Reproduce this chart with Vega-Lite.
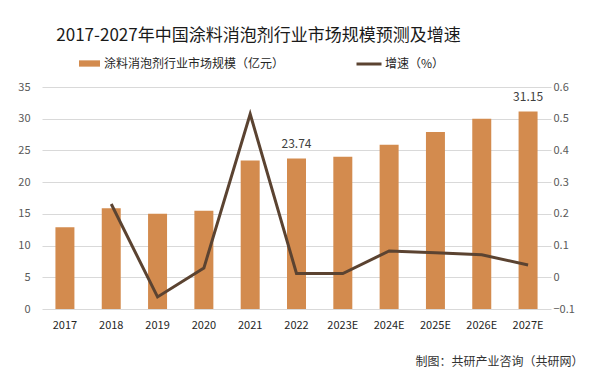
{
  "$schema": "https://vega.github.io/schema/vega-lite/v6.json",
  "width": 509,
  "height": 222,
  "autosize": "none",
  "padding": {"left": 42, "top": 87, "right": 49, "bottom": 64},
  "background": "white",
  "title": {
    "text": "2017-2027年中国涂料消泡剂行业市场规模预测及增速",
    "font": "Noto Sans CJK SC",
    "fontSize": 17,
    "fontWeight": "normal",
    "color": "#1a1a1a",
    "anchor": "middle",
    "dx": -38,
    "offset": 5
  },
  "config": {
    "view": {"stroke": null},
    "font": "Noto Sans CJK SC",
    "axis": {"labelFont": "Noto Sans CJK SC", "labelColor": "#595959", "labelFontSize": 11}
  },
  "data": {
    "values": [
      {"year": "2017", "scale": 12.9, "growth": null, "label": null},
      {"year": "2018", "scale": 15.9, "growth": 0.231, "label": null},
      {"year": "2019", "scale": 15.0, "growth": -0.062, "label": null},
      {"year": "2020", "scale": 15.5, "growth": 0.029, "label": null},
      {"year": "2021", "scale": 23.4, "growth": 0.515, "label": null},
      {"year": "2022", "scale": 23.74, "growth": 0.012, "label": "23.74"},
      {"year": "2023E", "scale": 24.0, "growth": 0.012, "label": null},
      {"year": "2024E", "scale": 25.9, "growth": 0.083, "label": null},
      {"year": "2025E", "scale": 27.9, "growth": 0.077, "label": null},
      {"year": "2026E", "scale": 30.0, "growth": 0.071, "label": null},
      {"year": "2027E", "scale": 31.15, "growth": 0.039, "label": "31.15"}
    ]
  },
  "encoding": {
    "x": {
      "field": "year",
      "type": "nominal",
      "sort": null,
      "scale": {"paddingInner": 0.59, "paddingOuter": 0.29},
      "axis": {
        "title": "制图：共研产业咨询（共研网）",
        "titleFont": "Noto Sans CJK SC",
        "titleFontSize": 12,
        "titleFontWeight": "normal",
        "titleColor": "#333333",
        "titleX": 541,
        "titleY": 52,
        "titleAlign": "right",
        "titleBaseline": "middle",
        "labelAngle": 0,
        "labelPadding": 10,
        "labelColor": "#262626",
        "domain": false,
        "ticks": false,
        "grid": false
      }
    }
  },
  "layer": [
    {
      "mark": {"type": "bar", "color": "#D38B4E"},
      "encoding": {
        "y": {
          "field": "scale",
          "type": "quantitative",
          "scale": {"domain": [0, 35]},
          "axis": {
            "title": null,
            "values": [0, 5, 10, 15, 20, 25, 30, 35],
            "domain": false,
            "ticks": false,
            "labelPadding": 12,
            "gridColor": "#D9D9D9",
            "grid": true
          }
        },
        "fill": {
          "datum": "涂料消泡剂行业市场规模（亿元）",
          "scale": {"range": ["#D38B4E"]},
          "legend": {
            "title": null,
            "orient": "none",
            "legendX": 37,
            "legendY": -34,
            "padding": 0,
            "symbolType": "M-1,-0.3H1V0.3H-1Z",
            "symbolSize": 441,
            "symbolStrokeWidth": 0,
            "labelOffset": 4,
            "labelLimit": 0,
            "labelFont": "Noto Sans CJK SC",
            "labelFontSize": 12,
            "labelColor": "#262626"
          }
        }
      }
    },
    {
      "transform": [{"filter": "datum.label != null"}],
      "mark": {"type": "text", "baseline": "bottom", "dy": -7, "fontSize": 12, "color": "#404040"},
      "encoding": {
        "y": {"field": "scale", "type": "quantitative", "scale": {"domain": [0, 35]}, "axis": null},
        "text": {"field": "label"}
      }
    },
    {
      "mark": {"type": "line", "strokeWidth": 3, "color": "#5B4331"},
      "encoding": {
        "y": {
          "field": "growth",
          "type": "quantitative",
          "scale": {"domain": [-0.1, 0.6]},
          "axis": {
            "orient": "right",
            "title": null,
            "values": [-0.1, 0, 0.1, 0.2, 0.3, 0.4, 0.5, 0.6],
            "format": ".1~f",
            "domain": false,
            "ticks": false,
            "grid": false,
            "labelPadding": 2
          }
        },
        "stroke": {
          "datum": "增速（%）",
          "scale": {"range": ["#5B4331"]},
          "legend": {
            "title": null,
            "orient": "none",
            "legendX": 313,
            "legendY": -37,
            "padding": 0,
            "symbolType": "stroke",
            "symbolSize": 625,
            "symbolStrokeWidth": 3,
            "labelOffset": 2,
            "labelLimit": 0,
            "labelFont": "Noto Sans CJK SC",
            "labelFontSize": 12,
            "labelColor": "#262626"
          }
        }
      }
    }
  ],
  "resolve": {"scale": {"y": "independent"}}
}
